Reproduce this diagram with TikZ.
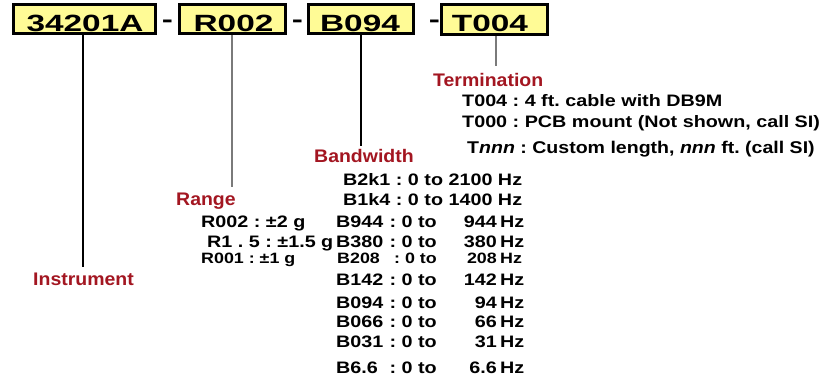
\documentclass[tikz,border=0pt]{standalone}
\usepackage{fontspec}
\newfontfamily\boxf[FakeStretch=1.42]{Liberation Sans}
\newfontfamily\bodyf[FakeStretch=1.19]{Liberation Sans}
\newfontfamily\tnf[FakeStretch=1.15]{Liberation Sans}
\newfontfamily\redf[FakeStretch=1.07]{Liberation Sans}
\definecolor{boxyellow}{HTML}{FFFB96}
\definecolor{lblred}{HTML}{A31621}
\definecolor{lngray}{HTML}{7A7A7A}
\tikzset{
  pbox/.style={draw=black, line width=3pt, fill=boxyellow, inner sep=0pt, minimum height=29pt},
  boxtxt/.style={inner sep=0pt, anchor=base, font=\boxf\fontsize{23.5}{27}\selectfont\bfseries},
  body/.style={inner sep=0pt, anchor=base west, font=\bodyf\fontsize{16.6}{19}\selectfont\bfseries},
  smallbody/.style={inner sep=0pt, anchor=base west, font=\bodyf\fontsize{15}{17}\selectfont\bfseries},
  tnbody/.style={inner sep=0pt, anchor=base west, font=\tnf\fontsize{17}{20}\selectfont\bfseries},
  redlbl/.style={inner sep=0pt, anchor=base west, text=lblred, font=\redf\fontsize{18.2}{21}\selectfont\bfseries},
  thickln/.style={line width=2.8pt, draw=black},
  thinln/.style={line width=1.4pt, draw=lngray},
}
\begin{document}
\frenchspacing
\begin{tikzpicture}[x=1pt,y=-1pt]
\path[fill=white] (0,0) rectangle (825,381);
\useasboundingbox (0,0) rectangle (825,381);

% part-number boxes
\node[pbox, minimum width=142pt] (inst) at (84.5,19) {};
\node[pbox, minimum width=106pt] (rbox) at (232.5,19) {};
\node[pbox, minimum width=105pt] (bbox) at (361,19) {};
\node[pbox, minimum width=106pt, minimum height=30pt] (tbox) at (494.5,19.5) {};
\node[boxtxt] (insttxt) at (85,31) {34201A};
\node[boxtxt] (rtxt) at (233.5,31) {R002};
\node[boxtxt] (btxt) at (360,31) {B094};
\node[boxtxt] (ttxt) at (490,31) {T004};
\node[boxtxt] (d1) at (167.5,27.5) {-};
\node[boxtxt] (d2) at (297.5,27.5) {-};
\node[boxtxt] (d3) at (434.5,27.5) {-};

% leader lines
\coordinate (instend) at (83,267);
\coordinate (rangeend) at (232,187);
\coordinate (bwend) at (361,146);
\coordinate (termend) at (496,66);
\draw[thickln] (inst.south -| instend) -- (instend);
\draw[thinln] (rbox.south -| rangeend) -- (rangeend);
\draw[thickln] (bbox.south -| bwend) -- (bwend);
\draw[thinln] (tbox.south -| termend) -- (termend);

% labels
\node[redlbl] (instlbl) at (33,285.5) {Instrument};
\node[redlbl] (rangelbl) at (176,205.5) {Range};
\node[redlbl] (bwlbl) at (314,162.5) {Bandwidth};
\node[redlbl] (termlbl) at (433,86.5) {Termination};

% termination options
\node[body] (t1) at (462,106) {T004 : 4 ft. cable with DB9M};
\node[body] (t2) at (462,127) {T000 : PCB mount (Not shown, call SI)};
\node[tnbody] (t3) at (467,153.5) {T\textit{nnn} : Custom length, \textit{nnn} ft. (call SI)};

% range options
\node[body] (r1) at (201,227) {R002 : \textpm2 g};
\node[body] (r2) at (207,247.8) {R1 . 5 : \textpm1.5 g};
\node[smallbody] (r3) at (201,263.5) {R001 : \textpm1 g};

% bandwidth options
\node[body] (bw1) at (343,185) {B2k1 : 0 to 2100 Hz};
\node[body] (bw2) at (343,205) {B1k4 : 0 to 1400 Hz};
\foreach \i/\code/\y/\num in {3/B944/227/944, 4/B380/247/380, 6/B142/285/142, 7/B094/308/94, 8/B066/327/66, 9/B031/347/31, 10/B6.6/373/6.6}{
  \node[body] (bc\i) at (336,\y) {\code};
  \node[body, anchor=base east] (bt\i) at (437,\y) {: 0 to};
  \node[body, anchor=base east] (bn\i) at (497,\y) {\num};
  \node[body] (bh\i) at (500,\y) {Hz};
}
\node[smallbody] (bc5) at (337,263.5) {B208};
\node[smallbody, anchor=base east] (bt5) at (437,263.5) {: 0 to};
\node[smallbody, anchor=base east] (bn5) at (497,263.5) {208};
\node[smallbody] (bh5) at (500,263.5) {Hz};
\end{tikzpicture}
\end{document}
